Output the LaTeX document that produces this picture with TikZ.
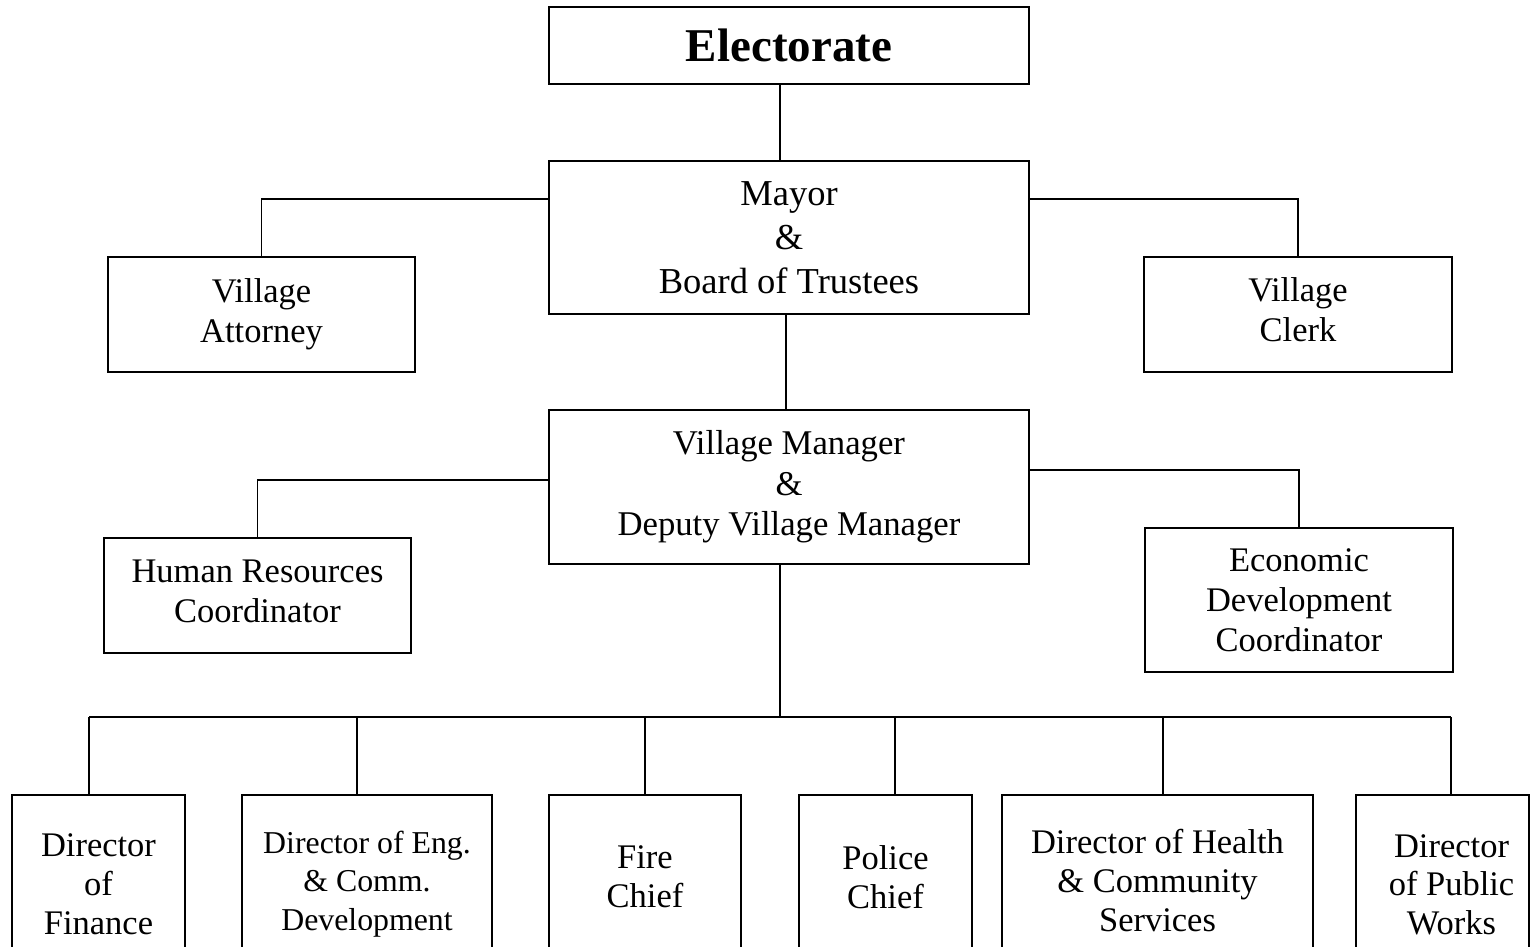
\documentclass[tikz,border=0pt]{standalone}
\usepackage{fontspec}
\setmainfont{Liberation Serif}
\begin{document}
\begin{tikzpicture}[x=1pt,y=-1pt,
  box/.style={draw, line width=1.8pt, rectangle, inner sep=0pt, align=center,
    font=\fontsize{34.5}{40}\selectfont},
  boxtext/.style={inner sep=0pt, align=center, font=\fontsize{34.5}{40}\selectfont},
  conn/.style={line width=1.8pt}]
\useasboundingbox (0,0) rectangle (1539,947);
\clip (0,0) rectangle (1539,947);
% top
\node[box, minimum width=480pt, minimum height=77pt,
  font=\bfseries\fontsize{47}{50}\selectfont] (elect) at (789,45.5) {Electorate};
\node[box, minimum width=480pt, minimum height=153pt,
  font=\fontsize{36.5}{44}\selectfont] (mayor) at (789,237.5) {Mayor\\\&\\Board of Trustees};
\node[box, minimum width=307pt, minimum height=115pt] (atty) at (261.5,314.5) {Village\\Attorney};
\node[box, minimum width=308pt, minimum height=115pt] (clerk) at (1298,314.5) {Village\\Clerk\vphantom{y}\rule[-10pt]{0pt}{1pt}};
\node[box, minimum width=480pt, minimum height=154pt,
  font=\fontsize{34.7}{40.5}\selectfont] (mgr) at (789,487) {Village Manager\\\&\\Deputy Village Manager};
\node[box, minimum width=307pt, minimum height=115pt] (hr) at (257.5,595.5) {Human Resources\\Coordinator\rule[-9pt]{0pt}{1pt}};
\node[box, minimum width=308pt, minimum height=144pt] (econ) at (1299,600) {Economic\\Development\\Coordinator};
% bottom row (extends below the page)
\node[box, minimum width=173pt, minimum height=178pt,
  font=\fontsize{34.5}{39}\selectfont] (fin) at (98.5,884) {Director\\of\\Finance};
\node[box, minimum width=250pt, minimum height=178pt,
  font=\fontsize{31.8}{38.5}\selectfont] (eng) at (367,884) {Director of Eng.\\\& Comm.\\Development};
\node[box, minimum width=192pt, minimum height=163pt,
  font=\fontsize{34.5}{38.5}\selectfont] (fire) at (645,876.5) {Fire\\Chief};
\node[box, minimum width=173pt, minimum height=165pt,
  font=\fontsize{34.5}{39}\selectfont] (police) at (885.5,877.5) {Police\\Chief};
\node[box, minimum width=311pt, minimum height=170.4pt,
  font=\fontsize{34.5}{39}\selectfont] (health) at (1157.5,880.2) {Director of Health\\\& Community\\Services};
\node[box, minimum width=173pt, minimum height=176.4pt] (pw) at (1442.5,883.2) {};
\node[boxtext, font=\fontsize{34.5}{38.5}\selectfont] (pwt) at (1451.5,884.5) {Director\\of Public\\Works};
% connector coordinates
\coordinate (xa) at (780,0);
\coordinate (xb) at (786,0);
\coordinate (xc) at (780,0);
\coordinate (b1) at (89,717);
\coordinate (b2) at (357,717);
\coordinate (b3) at (645,717);
\coordinate (b4) at (895,717);
\coordinate (b5) at (1163,717);
\coordinate (b6) at (1451,717);
% connectors
\draw[conn] (elect.south -| xa) -- (mayor.north -| xa);
\draw[conn] ([yshift=38.5pt]mayor.west) -| (atty.north);
\draw[conn] ([yshift=38.5pt]mayor.east) -| (clerk.north);
\draw[conn] (mayor.south -| xb) -- (mgr.north -| xb);
\draw[conn] ([yshift=7pt]mgr.west) -| (hr.north);
\draw[conn] ([yshift=17pt]mgr.east) -| (econ.north);
\draw[conn] (mgr.south -| xc) -- (xc |- b1);
\draw[conn] (b1) -- (b6);
\draw[conn] (b1) -- (b1 |- fin.north);
\draw[conn] (b2) -- (b2 |- eng.north);
\draw[conn] (b3) -- (b3 |- fire.north);
\draw[conn] (b4) -- (b4 |- police.north);
\draw[conn] (b5) -- (b5 |- health.north);
\draw[conn] (b6) -- (b6 |- pw.north);
\end{tikzpicture}
\end{document}
